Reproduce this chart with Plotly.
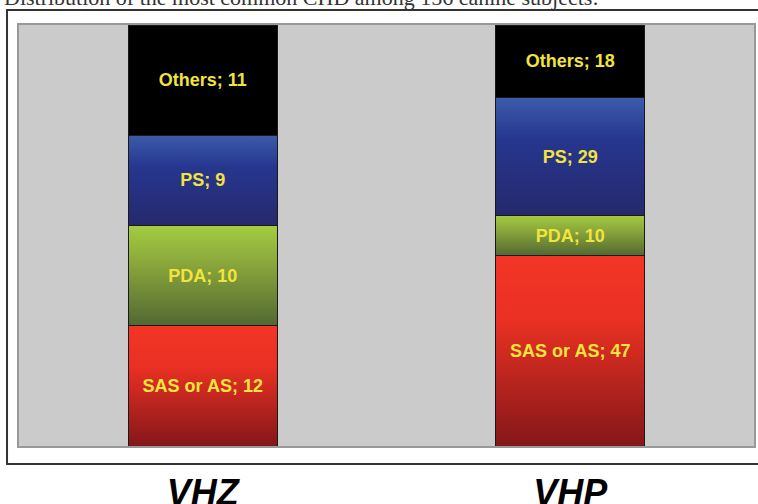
import base64
import plotly.graph_objects as go

# ---- data ----
groups = ["VHZ", "VHP"]
segments = ["SAS or AS", "PDA", "PS", "Others"]
values = {
    "SAS or AS": [12, 47],
    "PDA": [10, 10],
    "PS": [9, 29],
    "Others": [11, 18],
}
title_text = "Distribution of the most common CHD among 156 canine subjects:"

# ---- styles ----
grad = {
    "SAS or AS": ("#F43526", "#E83023", "#841719"),
    "PDA": ("#A4CC40", "#8CAA3C", "#526832"),
    "PS": ("#3C5BAA", "#26368F", "#26296C"),
    "Others": ("#000000", "#000000", "#000000"),
}
BAR_W = 0.405
xpos = list(range(len(groups)))


def grad_uri(c1, c2, c3):
    svg = (
        '<svg xmlns="http://www.w3.org/2000/svg" width="10" height="100" '
        'preserveAspectRatio="none" viewBox="0 0 10 100">'
        '<defs><linearGradient id="g" x1="0" y1="0" x2="0" y2="1">'
        f'<stop offset="0" stop-color="{c1}"/>'
        f'<stop offset="0.35" stop-color="{c2}"/>'
        f'<stop offset="1" stop-color="{c3}"/>'
        '</linearGradient></defs>'
        '<rect x="0" y="0" width="10" height="100" fill="url(#g)"/></svg>'
    )
    return "data:image/svg+xml;base64," + base64.b64encode(svg.encode()).decode()


fig = go.Figure()
for s in segments:
    fig.add_trace(go.Bar(
        x=xpos, y=values[s], name=s, width=BAR_W,
        text=[f"{s}; {v}" for v in values[s]],
        textposition="inside", insidetextanchor="middle", textangle=0,
        constraintext="none",
        textfont=dict(family="Liberation Sans, Arial",
                      size=18, color="#F2E43C", weight="bold"),
        marker=dict(color="rgba(0,0,0,0)", line=dict(color="#1a1a1a", width=1)),
        hoverinfo="skip", showlegend=False,
    ))

# gradient fills under each segment (positions derived from the data)
images = []
for i, x in enumerate(xpos):
    total = sum(values[s][i] for s in segments)
    cum = 0.0
    for s in segments:
        h = values[s][i] / total * 100
        images.append(dict(
            source=grad_uri(*grad[s]), xref="x", yref="y",
            x=x - BAR_W / 2, y=cum + h, sizex=BAR_W, sizey=h,
            xanchor="left", yanchor="top", sizing="stretch", layer="below",
        ))
        cum += h

fig.update_layout(
    barmode="stack", barnorm="percent",
    width=758, height=504,
    margin=dict(l=19, r=4, t=25, b=58),
    paper_bgcolor="white", plot_bgcolor="#CBCBCB",
    images=images,
    shapes=[dict(type="rect", xref="paper", yref="paper",
                 x0=-0.0163, x1=1.05, y0=-0.0428, y1=1.0356,
                 line=dict(color="#333333", width=2), layer="below")],
    annotations=[dict(text=title_text, xref="paper", yref="paper",
                      x=-0.0231, y=1.0665, xanchor="left", yanchor="middle",
                      showarrow=False,
                      font=dict(family="Liberation Serif, Times New Roman", size=22,
                                color="#333333"))],
)
fig.update_xaxes(range=[-0.5, 1.5], tickvals=xpos, ticktext=groups,
                 showgrid=False, zeroline=False, ticks="", automargin=False,
                 showline=True, mirror=True, linecolor="#999999", linewidth=2,
                 ticklabelstandoff=14,
                 tickfont=dict(family="Liberation Sans, Arial", size=36,
                               color="black", weight="bold", style="italic"))
fig.update_yaxes(range=[0, 100], showgrid=False, zeroline=False, automargin=False,
                 showticklabels=False, ticks="",
                 showline=True, mirror=True, linecolor="#999999", linewidth=2)

fig.write_html("out.html", config={"displayModeBar": False},
               post_script="document.body.style.margin='0';"
                           "document.body.style.overflow='hidden';")
